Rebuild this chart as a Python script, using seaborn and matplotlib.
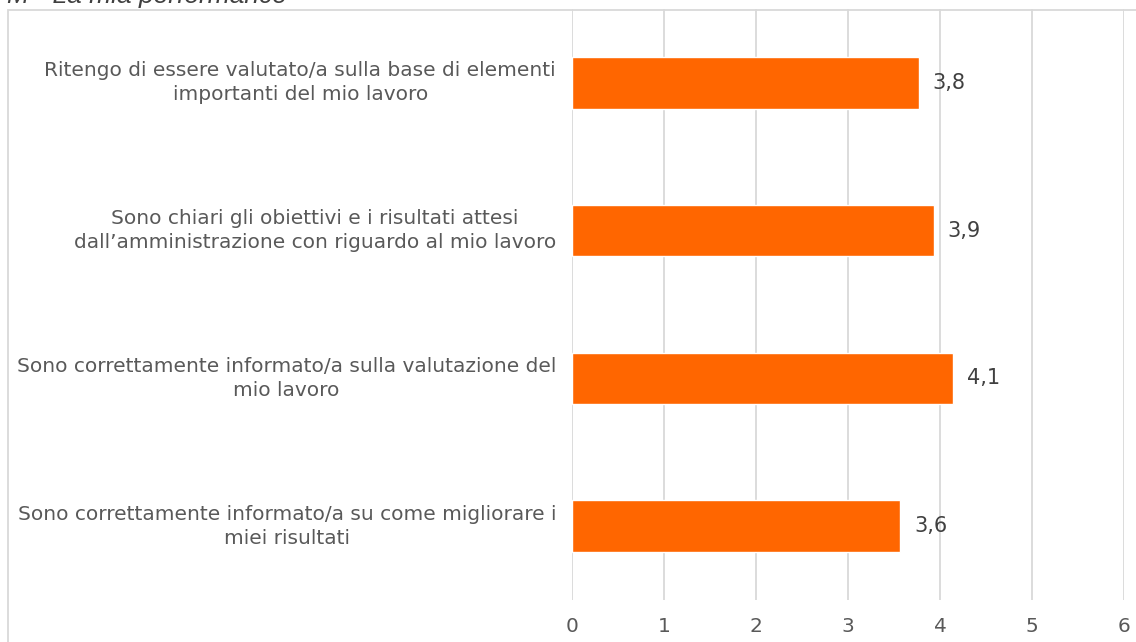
import matplotlib
matplotlib.use('Agg')
import matplotlib.pyplot as plt
import matplotlib.transforms as mtransforms
import seaborn as sns
import pandas as pd
from matplotlib.patches import Rectangle

# Values
categories = [
    'Ritengo di essere valutato/a sulla base di elementi\nimportanti del mio lavoro',
    'Sono chiari gli obiettivi e i risultati attesi\ndall\u2019amministrazione con riguardo al mio lavoro',
    'Sono correttamente informato/a sulla valutazione del\nmio lavoro',
    'Sono correttamente informato/a su come migliorare i\nmiei risultati',
]
values = [3.77, 3.93, 4.14, 3.57]
value_labels = ['3,8', '3,9', '4,1', '3,6']
x_ticks = [0, 1, 2, 3, 4, 5, 6]

df = pd.DataFrame({'categoria': categories, 'valore': values})

sns.set_style('white')
plt.rcParams['font.family'] = ['DejaVu Sans']

fig = plt.figure(figsize=(11.36, 6.42), dpi=100)
ax = fig.add_axes([572 / 1136, 1 - 600 / 642, (1124 - 572) / 1136, (600 - 9) / 642])

sns.barplot(data=df, x='valore', y='categoria', orient='h', color='#FF6600',
            width=0.35, saturation=1, ax=ax)

ax.set_xlim(0, 6)
ax.set_xticks(x_ticks)
ax.set_xticklabels([str(t) for t in x_ticks], fontsize=14.5, color='#595959',
                   family='DejaVu Sans')
ax.tick_params(axis='x', length=0, pad=12)
ax.set_yticklabels([])
ax.tick_params(axis='y', length=0)
ax.set_xlabel('')
ax.set_ylabel('')
ax.grid(axis='x', color='#d9d9d9', linewidth=1.3)
ax.set_axisbelow(True)
for s in ax.spines.values():
    s.set_visible(False)

# category labels: right-aligned block, lines centred
trans = mtransforms.blended_transform_factory(ax.transAxes, ax.transData)
for i, c in enumerate(categories):
    ax.text(-16 / 552, i, c, transform=trans, ha='right', va='center',
            multialignment='center', fontsize=14.5, color='#595959',
            family='DejaVu Sans', linespacing=1.35)

for i, (v, t) in enumerate(zip(values, value_labels)):
    ax.text(v + 0.15, i, t, va='center', ha='left', fontsize=15, color='#404040',
            family='DejaVu Sans')

# outer chart border, cut off at right and bottom like the source image
fig.patches.append(Rectangle((8 / 1136, -0.05), 1.2, 1 - 10 / 642 + 0.05,
                             transform=fig.transFigure, fill=False,
                             edgecolor='#d9d9d9', linewidth=1.3))

fig.text(7 / 1136, 1 - 3.5 / 642, 'M - La mia performance', fontsize=19, style='italic',
         color='#404040', family=['Liberation Sans'], va='baseline', ha='left')

fig.savefig('out.png', dpi=100)
